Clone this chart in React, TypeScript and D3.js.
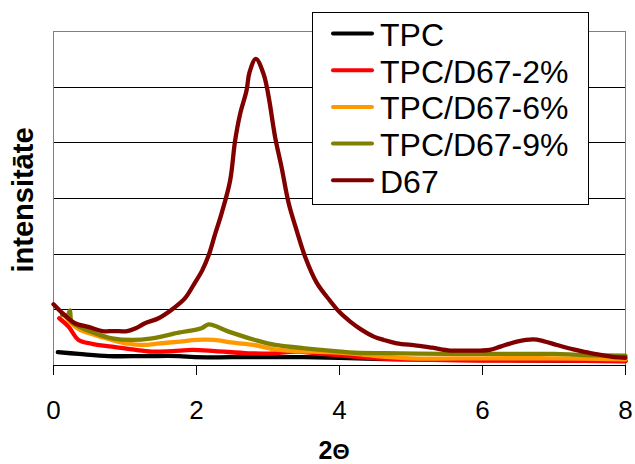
import React from "react";
import * as d3 from "d3";

const xTicks = [0, 2, 4, 6, 8];
const seriesNames = ["TPC", "TPC/D67-2%", "TPC/D67-6%", "TPC/D67-9%", "D67"];
const seriesColors = ["#000000", "#FF0000", "#FF9900", "#808000", "#800000"];

const tpcX = [0.06, 0.35, 0.77, 1.28, 1.75, 1.98, 2.5, 3.0, 3.5, 4.0, 4.5, 5.0, 6.0, 7.0, 8.0];
const tpcY = [0.23, 0.2, 0.16, 0.16, 0.16, 0.14, 0.14, 0.14, 0.14, 0.13, 0.11, 0.1, 0.09, 0.08, 0.07];

const d2X = [0.08, 0.21, 0.35, 0.54, 0.82, 1.1, 1.38, 1.66, 1.94, 2.26, 2.73, 3.1, 3.38, 3.75, 4.13, 4.5, 5.0, 6.0, 7.0, 8.0];
const d2Y = [0.84, 0.69, 0.45, 0.38, 0.33, 0.28, 0.24, 0.25, 0.27, 0.25, 0.21, 0.21, 0.24, 0.2, 0.16, 0.12, 0.1, 0.08, 0.08, 0.07];

const d6X = [0.14, 0.25, 0.37, 0.5, 0.65, 0.93, 1.21, 1.49, 1.77, 2.0, 2.24, 2.52, 2.8, 3.1, 3.38, 3.85, 4.22, 4.6, 5.0, 6.0, 7.0, 8.0];
const d6Y = [0.92, 0.75, 0.63, 0.57, 0.51, 0.41, 0.36, 0.39, 0.42, 0.45, 0.45, 0.4, 0.36, 0.28, 0.25, 0.23, 0.2, 0.15, 0.12, 0.12, 0.12, 0.1];

const d9X = [0.12, 0.2, 0.23, 0.25, 0.3, 0.58, 0.82, 1.1, 1.38, 1.75, 2.07, 2.17, 2.45, 2.82, 3.1, 3.52, 3.94, 4.22, 4.85, 5.5, 6.0, 6.5, 7.0, 7.4, 8.0];
const d9Y = [0.9, 0.9, 0.98, 0.78, 0.73, 0.57, 0.48, 0.45, 0.48, 0.58, 0.66, 0.73, 0.6, 0.45, 0.36, 0.3, 0.25, 0.22, 0.21, 0.2, 0.2, 0.2, 0.2, 0.18, 0.17];

const d67X = [0, 0.15, 0.3, 0.5, 0.68, 0.85, 1.03, 1.15, 1.28, 1.47, 1.68, 1.84, 1.96, 2.08, 2.17, 2.26, 2.35, 2.47, 2.54, 2.61, 2.7, 2.74, 2.83, 2.94, 3.01, 3.1, 3.19, 3.29, 3.4, 3.52, 3.68, 3.87, 4.0, 4.15, 4.3, 4.48, 4.62, 4.8, 5.08, 5.3, 5.55, 5.8, 5.97, 6.1, 6.25, 6.48, 6.71, 6.85, 7.04, 7.27, 7.45, 7.65, 7.85, 8.0];
const d67Y = [1.09, 0.9, 0.75, 0.68, 0.61, 0.61, 0.61, 0.66, 0.75, 0.84, 1.02, 1.2, 1.44, 1.7, 1.97, 2.35, 2.72, 3.31, 4.03, 4.51, 4.93, 5.25, 5.5, 5.22, 4.81, 4.09, 3.55, 2.9, 2.42, 1.94, 1.48, 1.15, 0.95, 0.78, 0.64, 0.51, 0.45, 0.39, 0.35, 0.31, 0.26, 0.26, 0.26, 0.27, 0.33, 0.42, 0.46, 0.43, 0.36, 0.28, 0.23, 0.18, 0.14, 0.13];

const seriesX = [tpcX, d2X, d6X, d9X, d67X];
const seriesY = [tpcY, d2Y, d6Y, d9Y, d67Y];

export default function App() {
  const W = 635, H = 464;
  const x = d3.scaleLinear().domain([0, 8]).range([53.5, 625.5]);
  const y = d3.scaleLinear().domain([0, 6]).range([365, 31]);
  const line = d3
    .line<[number, number]>()
    .x((d) => x(d[0]))
    .y((d) => y(d[1]))
    .curve(d3.curveCatmullRom.alpha(0.5));
  const gridVals = [1, 2, 3, 4, 5];
  const font = "'Liberation Sans', Arial, sans-serif";
  const legX = 312.5, legY = 12.5, legW = 276, legH = 192;

  return (
    <svg width={W} height={H} style={{ position: "absolute", left: 0, top: 0, background: "#fff" }}>
      <rect x={0} y={0} width={W} height={H} fill="#fff" />
      {gridVals.map((v) => (
        <line key={v} x1={x(0)} x2={x(8)} y1={Math.round(y(v)) + 0.5} y2={Math.round(y(v)) + 0.5} stroke="#000" strokeWidth={1} />
      ))}
      <line x1={x(0)} x2={x(8)} y1={31.5} y2={31.5} stroke="#808080" strokeWidth={1} />
      <line x1={x(8)} x2={x(8)} y1={31} y2={365} stroke="#808080" strokeWidth={1} />
      <line x1={x(0)} x2={x(0)} y1={31} y2={365} stroke="#808080" strokeWidth={1} />
      {seriesX.map((xs, i) => (
        <path
          key={i}
          d={line(xs.map((v, j) => [v, seriesY[i][j]] as [number, number])) || ""}
          fill="none"
          stroke={seriesColors[i]}
          strokeWidth={4.3}
          strokeLinejoin="round"
          strokeLinecap="round"
        />
      ))}
      <line x1={x(0)} x2={x(8)} y1={365.5} y2={365.5} stroke="#000" strokeWidth={1} />
      {xTicks.map((t) => (
        <g key={t}>
          <line x1={x(t)} x2={x(t)} y1={365} y2={375} stroke="#000" strokeWidth={1} />
          <text x={x(t)} y={419} textAnchor="middle" fontFamily={font} fontSize={26} fill="#000">
            {t}
          </text>
        </g>
      ))}
      <text x={334} y={459} textAnchor="middle" fontFamily={font} fontSize={25} fontWeight="bold" fill="#000">
        2<tspan fontSize={22}>Θ</tspan>
      </text>
      <text
        transform="translate(33,200) rotate(-90)"
        textAnchor="middle"
        fontFamily={font}
        fontSize={29}
        fontWeight="bold"
        fill="#000"
      >
        intensitāte
      </text>
      <rect x={legX} y={legY} width={legW} height={legH} fill="#fff" stroke="#000" strokeWidth={1} />
      {seriesNames.map((n, i) => {
        const by = 46 + i * 36.7;
        return (
          <g key={n}>
            <line x1={333} x2={372} y1={by - 12.5} y2={by - 12.5} stroke={seriesColors[i]} strokeWidth={4} strokeLinecap="round" />
            <text x={380} y={by} fontFamily={font} fontSize={32} fill="#000">
              {n}
            </text>
          </g>
        );
      })}
    </svg>
  );
}
